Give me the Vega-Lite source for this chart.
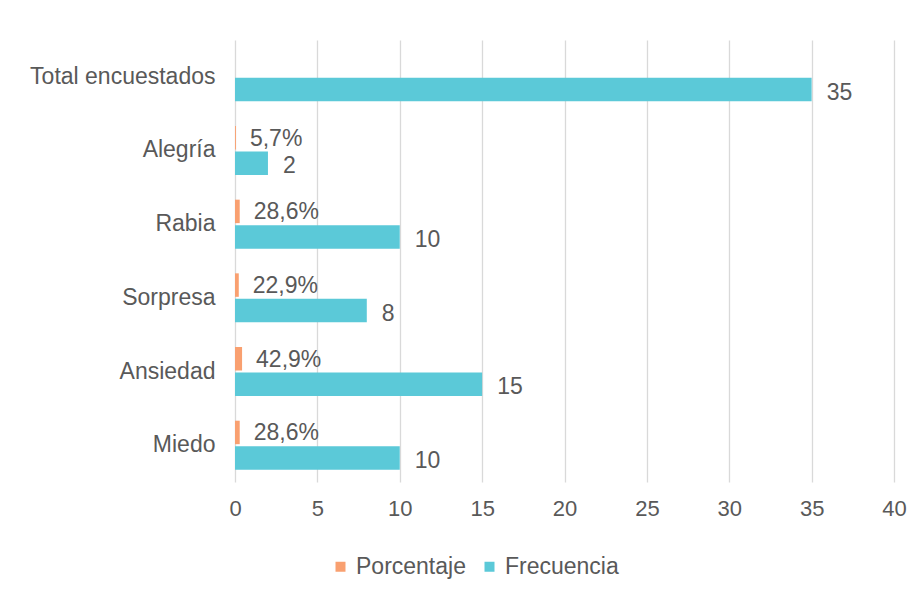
{
  "$schema": "https://vega.github.io/schema/vega-lite/v6.json",
  "width": 659,
  "height": 442,
  "autosize": {"type": "none"},
  "padding": {"left": 235, "top": 40, "right": 30, "bottom": 118},
  "background": "white",
  "config": {
    "locale": {"number": {"decimal": ",", "thousands": ".", "grouping": [3], "currency": ["", " €"]}},
    "view": {"stroke": null},
    "font": "Liberation Sans"
  },
  "data": {
    "values": [
      {"categoria": "Total encuestados", "serie": "Frecuencia", "valor": 35},
      {"categoria": "Alegría", "serie": "Porcentaje", "valor": 0.057},
      {"categoria": "Alegría", "serie": "Frecuencia", "valor": 2},
      {"categoria": "Rabia", "serie": "Porcentaje", "valor": 0.286},
      {"categoria": "Rabia", "serie": "Frecuencia", "valor": 10},
      {"categoria": "Sorpresa", "serie": "Porcentaje", "valor": 0.229},
      {"categoria": "Sorpresa", "serie": "Frecuencia", "valor": 8},
      {"categoria": "Ansiedad", "serie": "Porcentaje", "valor": 0.429},
      {"categoria": "Ansiedad", "serie": "Frecuencia", "valor": 15},
      {"categoria": "Miedo", "serie": "Porcentaje", "valor": 0.286},
      {"categoria": "Miedo", "serie": "Frecuencia", "valor": 10}
    ]
  },
  "encoding": {
    "y": {
      "field": "categoria",
      "type": "nominal",
      "sort": ["Total encuestados", "Alegría", "Rabia", "Sorpresa", "Ansiedad", "Miedo"],
      "scale": {"paddingInner": 0.335, "paddingOuter": 0.167},
      "axis": {"title": null, "domain": false, "ticks": false, "grid": false, "labelPadding": 20, "labelFontSize": 23, "labelLimit": 400, "labelColor": "#595959"}
    },
    "yOffset": {
      "field": "serie",
      "type": "nominal",
      "sort": ["Porcentaje", "Frecuencia"],
      "scale": {"paddingInner": 0.08}
    },
    "x": {
      "field": "valor",
      "type": "quantitative",
      "scale": {"domain": [0, 40], "nice": false},
      "axis": {"title": null, "domain": false, "ticks": false, "grid": true, "gridColor": "#d9d9d9", "gridWidth": 1.3, "values": [0, 5, 10, 15, 20, 25, 30, 35, 40], "labelFlush": false, "labelPadding": 16, "labelFontSize": 22, "labelColor": "#595959"}
    }
  },
  "layer": [
    {
      "mark": {"type": "bar"},
      "encoding": {
        "color": {
          "field": "serie",
          "type": "nominal",
          "sort": ["Porcentaje", "Frecuencia"],
          "scale": {"domain": ["Porcentaje", "Frecuencia"], "range": ["#F9A070", "#5BC9D8"]},
          "legend": {"title": null, "orient": "none", "direction": "horizontal", "legendX": 94, "legendY": 515, "symbolType": "square", "symbolSize": 100, "symbolStrokeWidth": 0, "labelFontSize": 23, "labelColor": "#595959", "columnPadding": 12, "labelOffset": 4}
        }
      }
    },
    {
      "transform": [{"filter": "datum.serie == 'Porcentaje'"}],
      "mark": {"type": "text", "align": "left", "baseline": "middle", "dx": 14, "dy": 1, "fontSize": 23, "color": "#595959"},
      "encoding": {"text": {"field": "valor", "type": "quantitative", "format": ".1%"}}
    },
    {
      "transform": [{"filter": "datum.serie == 'Frecuencia'"}],
      "mark": {"type": "text", "align": "left", "baseline": "middle", "dx": 15, "dy": 3, "fontSize": 23, "color": "#595959"},
      "encoding": {"text": {"field": "valor", "type": "quantitative"}}
    }
  ]
}
